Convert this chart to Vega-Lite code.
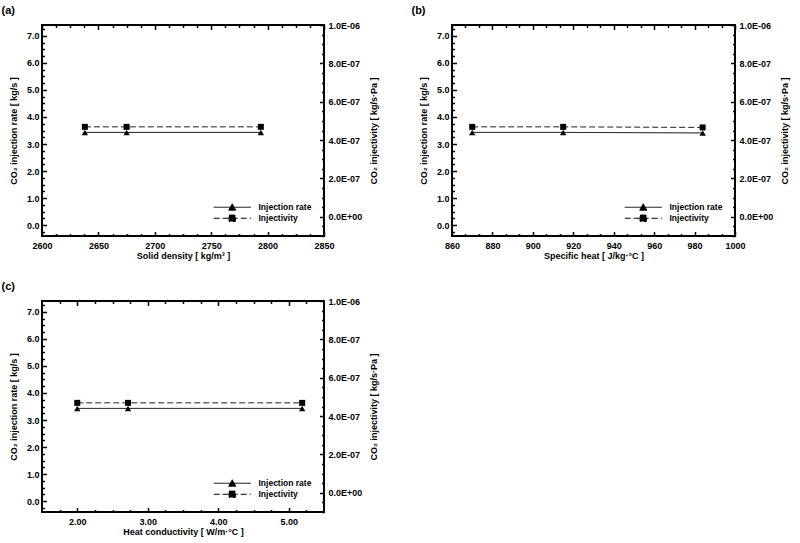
{
  "$schema": "https://vega.github.io/schema/vega-lite/v6.json",
  "padding": {"top": 4, "left": 0, "right": 5, "bottom": 5},
  "background": "white",
  "data": {"values": [
    {"panel": "a", "x": 2638, "rate": 3.43, "inj": 4.69e-7},
    {"panel": "a", "x": 2675, "rate": 3.43, "inj": 4.69e-7},
    {"panel": "a", "x": 2794, "rate": 3.43, "inj": 4.69e-7},
    {"panel": "b", "x": 870, "rate": 3.43, "inj": 4.69e-7},
    {"panel": "b", "x": 915, "rate": 3.43, "inj": 4.69e-7},
    {"panel": "b", "x": 984, "rate": 3.41, "inj": 4.66e-7},
    {"panel": "c", "x": 2.0, "rate": 3.43, "inj": 4.69e-7},
    {"panel": "c", "x": 2.72, "rate": 3.43, "inj": 4.69e-7},
    {"panel": "c", "x": 5.19, "rate": 3.43, "inj": 4.69e-7}
  ]},
  "columns": 2,
  "spacing": {"column": 30, "row": 19},
  "resolve": {"scale": {"strokeDash": "independent"}},
  "concat": [
    {
      "width": 282, "height": 211,
      "title": {"text": "(a)", "anchor": "start", "frame": "bounds", "dx": -8},
      "transform": [{"filter": "datum.panel == 'a'"}],
      "resolve": {"scale": {"y": "independent"}, "axis": {"x": "independent"}},
      "layer": [
        {"mark": {"type": "line", "color": "black", "strokeWidth": 1},
         "encoding": {
           "x": {"field": "x", "type": "quantitative", "scale": {"domain": [2600, 2850], "nice": false, "zero": false},
                 "axis": {"orient": "bottom", "title": "Solid density [ kg/m³ ]", "values": [2600, 2650, 2700, 2750, 2800, 2850], "format": "d", "ticks": false, "labelPadding": 5, "titlePadding": 1}},
           "y": {"field": "rate", "type": "quantitative", "scale": {"domain": [-0.4, 7.4], "nice": false, "zero": false},
                 "axis": {"orient": "left", "title": "CO₂ injection rate [ kg/s ]", "values": [0, 1, 2, 3, 4, 5, 6, 7], "format": ".1f", "ticks": false, "labelPadding": 3, "titlePadding": 8}},
           "strokeDash": {"datum": "Injection rate", "scale": {"domain": ["Injection rate", "Injectivity"], "range": [[1, 0], [6, 3]]},
                          "legend": {"title": null, "orient": "bottom-right", "offset": 12,
                                     "symbolType": {"expr": "datum.value === 'Injection rate' ? 'M-5.3,0H5.3M0,-1L1,0.85H-1Z' : 'M-5.3,0H5.3M-0.9,-0.9H0.9V0.9H-0.9Z'"}}}
         }},
        {"mark": {"type": "point", "filled": true, "color": "black", "size": 40, "opacity": 1, "shape": "triangle-up"},
         "encoding": {
           "x": {"field": "x", "type": "quantitative", "axis": null},
           "y": {"field": "rate", "type": "quantitative", "scale": {"domain": [-0.4, 7.4], "nice": false, "zero": false}, "axis": null}
         }},
        {"mark": {"type": "line", "color": "#222", "strokeWidth": 1},
         "encoding": {
           "x": {"field": "x", "type": "quantitative", "axis": null},
           "y": {"field": "inj", "type": "quantitative", "scale": {"domain": [-1e-7, 1e-6], "nice": false, "zero": false},
                 "axis": {"orient": "right", "title": "CO₂ injectivity [ kg/s·Pa ]", "titleAngle": 270, "titleBaseline": "top", "titlePadding": 8, "ticks": false, "labelPadding": 4,
                          "values": [0, 2e-7, 4e-7, 6e-7, 8e-7, 1e-6],
                          "labelExpr": "abs(datum.value) < 1e-12 ? '0.0E+00' : replace(upper(format(datum.value, '.1e')), 'E-', 'E-0')"}},
           "strokeDash": {"datum": "Injectivity"}
         }},
        {"mark": {"type": "point", "filled": true, "color": "black", "size": 36, "opacity": 1, "shape": "square"},
         "encoding": {
           "x": {"field": "x", "type": "quantitative", "axis": null},
           "y": {"field": "inj", "type": "quantitative", "scale": {"domain": [-1e-7, 1e-6], "nice": false, "zero": false}, "axis": null}
         }},
        {"mark": {"type": "line", "opacity": 0},
         "encoding": {
           "x": {"field": "x", "type": "quantitative", "axis": {"orient": "bottom", "title": null, "labels": false, "tickSize": 4.5, "offset": -4.5, "values": [2600, 2650, 2700, 2750, 2800, 2850]}},
           "y": {"field": "rate", "type": "quantitative", "scale": {"domain": [-0.4, 7.4], "nice": false, "zero": false},
                 "axis": {"orient": "left", "title": null, "labels": false, "tickSize": 4.5, "offset": -4.5, "values": [0, 1, 2, 3, 4, 5, 6, 7]}}
         }},
        {"mark": {"type": "line", "opacity": 0},
         "encoding": {
           "x": {"field": "x", "type": "quantitative", "axis": {"orient": "bottom", "title": null, "labels": false, "tickSize": 2.5, "offset": -2.5,
                 "values": [2612.5, 2625, 2637.5, 2662.5, 2675, 2687.5, 2712.5, 2725, 2737.5, 2762.5, 2775, 2787.5, 2812.5, 2825, 2837.5]}},
           "y": {"field": "rate", "type": "quantitative", "scale": {"domain": [-0.4, 7.4], "nice": false, "zero": false},
                 "axis": {"orient": "left", "title": null, "labels": false, "tickSize": 2.5, "offset": -2.5,
                          "values": [-0.25, 0.25, 0.5, 0.75, 1.25, 1.5, 1.75, 2.25, 2.5, 2.75, 3.25, 3.5, 3.75, 4.25, 4.5, 4.75, 5.25, 5.5, 5.75, 6.25, 6.5, 6.75, 7.25]}}
         }},
        {"mark": {"type": "line", "opacity": 0},
         "encoding": {
           "x": {"field": "x", "type": "quantitative", "axis": {"orient": "top", "title": null, "labels": false, "tickSize": 4.5, "offset": -4.5, "values": [2600, 2650, 2700, 2750, 2800, 2850]}},
           "y": {"field": "inj", "type": "quantitative", "scale": {"domain": [-1e-7, 1e-6], "nice": false, "zero": false},
                 "axis": {"orient": "right", "title": null, "labels": false, "tickSize": 4.5, "offset": -4.5, "values": [0, 2e-7, 4e-7, 6e-7, 8e-7, 1e-6]}}
         }},
        {"mark": {"type": "line", "opacity": 0},
         "encoding": {
           "x": {"field": "x", "type": "quantitative", "axis": {"orient": "top", "title": null, "labels": false, "tickSize": 2.5, "offset": -2.5,
                 "values": [2612.5, 2625, 2637.5, 2662.5, 2675, 2687.5, 2712.5, 2725, 2737.5, 2762.5, 2775, 2787.5, 2812.5, 2825, 2837.5]}},
           "y": {"field": "inj", "type": "quantitative", "scale": {"domain": [-1e-7, 1e-6], "nice": false, "zero": false},
                 "axis": {"orient": "right", "title": null, "labels": false, "tickSize": 2.5, "offset": -2.5,
                          "values": [-1e-7, -5e-8, 5e-8, 1e-7, 1.5e-7, 2.5e-7, 3e-7, 3.5e-7, 4.5e-7, 5e-7, 5.5e-7, 6.5e-7, 7e-7, 7.5e-7, 8.5e-7, 9e-7, 9.5e-7]}}
         }}
      ]
    },
    {
      "width": 283, "height": 211,
      "title": {"text": "(b)", "anchor": "start", "frame": "bounds", "dx": -8},
      "transform": [{"filter": "datum.panel == 'b'"}],
      "resolve": {"scale": {"y": "independent"}, "axis": {"x": "independent"}},
      "layer": [
        {"mark": {"type": "line", "color": "black", "strokeWidth": 1},
         "encoding": {
           "x": {"field": "x", "type": "quantitative", "scale": {"domain": [860, 1000], "nice": false, "zero": false},
                 "axis": {"orient": "bottom", "title": "Specific heat [ J/kg·°C ]", "values": [860, 880, 900, 920, 940, 960, 980, 1000], "format": "d", "ticks": false, "labelPadding": 5, "titlePadding": 1}},
           "y": {"field": "rate", "type": "quantitative", "scale": {"domain": [-0.4, 7.4], "nice": false, "zero": false},
                 "axis": {"orient": "left", "title": "CO₂ injection rate [ kg/s ]", "values": [0, 1, 2, 3, 4, 5, 6, 7], "format": ".1f", "ticks": false, "labelPadding": 3, "titlePadding": 8}},
           "strokeDash": {"datum": "Injection rate", "scale": {"domain": ["Injection rate", "Injectivity"], "range": [[1, 0], [6, 3]]},
                          "legend": {"title": null, "orient": "bottom-right", "offset": 12,
                                     "symbolType": {"expr": "datum.value === 'Injection rate' ? 'M-5.3,0H5.3M0,-1L1,0.85H-1Z' : 'M-5.3,0H5.3M-0.9,-0.9H0.9V0.9H-0.9Z'"}}}
         }},
        {"mark": {"type": "point", "filled": true, "color": "black", "size": 40, "opacity": 1, "shape": "triangle-up"},
         "encoding": {
           "x": {"field": "x", "type": "quantitative", "axis": null},
           "y": {"field": "rate", "type": "quantitative", "scale": {"domain": [-0.4, 7.4], "nice": false, "zero": false}, "axis": null}
         }},
        {"mark": {"type": "line", "color": "#222", "strokeWidth": 1},
         "encoding": {
           "x": {"field": "x", "type": "quantitative", "axis": null},
           "y": {"field": "inj", "type": "quantitative", "scale": {"domain": [-1e-7, 1e-6], "nice": false, "zero": false},
                 "axis": {"orient": "right", "title": "CO₂ injectivity [ kg/s·Pa ]", "titleAngle": 270, "titleBaseline": "top", "titlePadding": 8, "ticks": false, "labelPadding": 4,
                          "values": [0, 2e-7, 4e-7, 6e-7, 8e-7, 1e-6],
                          "labelExpr": "abs(datum.value) < 1e-12 ? '0.0E+00' : replace(upper(format(datum.value, '.1e')), 'E-', 'E-0')"}},
           "strokeDash": {"datum": "Injectivity"}
         }},
        {"mark": {"type": "point", "filled": true, "color": "black", "size": 36, "opacity": 1, "shape": "square"},
         "encoding": {
           "x": {"field": "x", "type": "quantitative", "axis": null},
           "y": {"field": "inj", "type": "quantitative", "scale": {"domain": [-1e-7, 1e-6], "nice": false, "zero": false}, "axis": null}
         }},
        {"mark": {"type": "line", "opacity": 0},
         "encoding": {
           "x": {"field": "x", "type": "quantitative", "axis": {"orient": "bottom", "title": null, "labels": false, "tickSize": 4.5, "offset": -4.5, "values": [860, 880, 900, 920, 940, 960, 980, 1000]}},
           "y": {"field": "rate", "type": "quantitative", "scale": {"domain": [-0.4, 7.4], "nice": false, "zero": false},
                 "axis": {"orient": "left", "title": null, "labels": false, "tickSize": 4.5, "offset": -4.5, "values": [0, 1, 2, 3, 4, 5, 6, 7]}}
         }},
        {"mark": {"type": "line", "opacity": 0},
         "encoding": {
           "x": {"field": "x", "type": "quantitative", "axis": {"orient": "bottom", "title": null, "labels": false, "tickSize": 2.5, "offset": -2.5,
                 "values": [866.667, 873.333, 886.667, 893.333, 906.667, 913.333, 926.667, 933.333, 946.667, 953.333, 966.667, 973.333, 986.667, 993.333]}},
           "y": {"field": "rate", "type": "quantitative", "scale": {"domain": [-0.4, 7.4], "nice": false, "zero": false},
                 "axis": {"orient": "left", "title": null, "labels": false, "tickSize": 2.5, "offset": -2.5,
                          "values": [-0.25, 0.25, 0.5, 0.75, 1.25, 1.5, 1.75, 2.25, 2.5, 2.75, 3.25, 3.5, 3.75, 4.25, 4.5, 4.75, 5.25, 5.5, 5.75, 6.25, 6.5, 6.75, 7.25]}}
         }},
        {"mark": {"type": "line", "opacity": 0},
         "encoding": {
           "x": {"field": "x", "type": "quantitative", "axis": {"orient": "top", "title": null, "labels": false, "tickSize": 4.5, "offset": -4.5, "values": [860, 880, 900, 920, 940, 960, 980, 1000]}},
           "y": {"field": "inj", "type": "quantitative", "scale": {"domain": [-1e-7, 1e-6], "nice": false, "zero": false},
                 "axis": {"orient": "right", "title": null, "labels": false, "tickSize": 4.5, "offset": -4.5, "values": [0, 2e-7, 4e-7, 6e-7, 8e-7, 1e-6]}}
         }},
        {"mark": {"type": "line", "opacity": 0},
         "encoding": {
           "x": {"field": "x", "type": "quantitative", "axis": {"orient": "top", "title": null, "labels": false, "tickSize": 2.5, "offset": -2.5,
                 "values": [866.667, 873.333, 886.667, 893.333, 906.667, 913.333, 926.667, 933.333, 946.667, 953.333, 966.667, 973.333, 986.667, 993.333]}},
           "y": {"field": "inj", "type": "quantitative", "scale": {"domain": [-1e-7, 1e-6], "nice": false, "zero": false},
                 "axis": {"orient": "right", "title": null, "labels": false, "tickSize": 2.5, "offset": -2.5,
                          "values": [-1e-7, -5e-8, 5e-8, 1e-7, 1.5e-7, 2.5e-7, 3e-7, 3.5e-7, 4.5e-7, 5e-7, 5.5e-7, 6.5e-7, 7e-7, 7.5e-7, 8.5e-7, 9e-7, 9.5e-7]}}
         }}
      ]
    },
    {
      "width": 282, "height": 211,
      "title": {"text": "(c)", "anchor": "start", "frame": "bounds", "dx": -8},
      "transform": [{"filter": "datum.panel == 'c'"}],
      "resolve": {"scale": {"y": "independent"}, "axis": {"x": "independent"}},
      "layer": [
        {"mark": {"type": "line", "color": "black", "strokeWidth": 1},
         "encoding": {
           "x": {"field": "x", "type": "quantitative", "scale": {"domain": [1.5, 5.5], "nice": false, "zero": false},
                 "axis": {"orient": "bottom", "title": "Heat conductivity [ W/m·°C ]", "values": [2, 3, 4, 5], "format": ".2f", "ticks": false, "labelPadding": 5, "titlePadding": 1}},
           "y": {"field": "rate", "type": "quantitative", "scale": {"domain": [-0.4, 7.4], "nice": false, "zero": false},
                 "axis": {"orient": "left", "title": "CO₂ injection rate [ kg/s ]", "values": [0, 1, 2, 3, 4, 5, 6, 7], "format": ".1f", "ticks": false, "labelPadding": 3, "titlePadding": 8}},
           "strokeDash": {"datum": "Injection rate", "scale": {"domain": ["Injection rate", "Injectivity"], "range": [[1, 0], [6, 3]]},
                          "legend": {"title": null, "orient": "bottom-right", "offset": 12,
                                     "symbolType": {"expr": "datum.value === 'Injection rate' ? 'M-5.3,0H5.3M0,-1L1,0.85H-1Z' : 'M-5.3,0H5.3M-0.9,-0.9H0.9V0.9H-0.9Z'"}}}
         }},
        {"mark": {"type": "point", "filled": true, "color": "black", "size": 40, "opacity": 1, "shape": "triangle-up"},
         "encoding": {
           "x": {"field": "x", "type": "quantitative", "axis": null},
           "y": {"field": "rate", "type": "quantitative", "scale": {"domain": [-0.4, 7.4], "nice": false, "zero": false}, "axis": null}
         }},
        {"mark": {"type": "line", "color": "#222", "strokeWidth": 1},
         "encoding": {
           "x": {"field": "x", "type": "quantitative", "axis": null},
           "y": {"field": "inj", "type": "quantitative", "scale": {"domain": [-1e-7, 1e-6], "nice": false, "zero": false},
                 "axis": {"orient": "right", "title": "CO₂ injectivity [ kg/s·Pa ]", "titleAngle": 270, "titleBaseline": "top", "titlePadding": 8, "ticks": false, "labelPadding": 4,
                          "values": [0, 2e-7, 4e-7, 6e-7, 8e-7, 1e-6],
                          "labelExpr": "abs(datum.value) < 1e-12 ? '0.0E+00' : replace(upper(format(datum.value, '.1e')), 'E-', 'E-0')"}},
           "strokeDash": {"datum": "Injectivity"}
         }},
        {"mark": {"type": "point", "filled": true, "color": "black", "size": 36, "opacity": 1, "shape": "square"},
         "encoding": {
           "x": {"field": "x", "type": "quantitative", "axis": null},
           "y": {"field": "inj", "type": "quantitative", "scale": {"domain": [-1e-7, 1e-6], "nice": false, "zero": false}, "axis": null}
         }},
        {"mark": {"type": "line", "opacity": 0},
         "encoding": {
           "x": {"field": "x", "type": "quantitative", "axis": {"orient": "bottom", "title": null, "labels": false, "tickSize": 4.5, "offset": -4.5, "values": [2, 3, 4, 5]}},
           "y": {"field": "rate", "type": "quantitative", "scale": {"domain": [-0.4, 7.4], "nice": false, "zero": false},
                 "axis": {"orient": "left", "title": null, "labels": false, "tickSize": 4.5, "offset": -4.5, "values": [0, 1, 2, 3, 4, 5, 6, 7]}}
         }},
        {"mark": {"type": "line", "opacity": 0},
         "encoding": {
           "x": {"field": "x", "type": "quantitative", "axis": {"orient": "bottom", "title": null, "labels": false, "tickSize": 2.5, "offset": -2.5,
                 "values": [1.75, 2.25, 2.5, 2.75, 3.25, 3.5, 3.75, 4.25, 4.5, 4.75, 5.25]}},
           "y": {"field": "rate", "type": "quantitative", "scale": {"domain": [-0.4, 7.4], "nice": false, "zero": false},
                 "axis": {"orient": "left", "title": null, "labels": false, "tickSize": 2.5, "offset": -2.5,
                          "values": [-0.25, 0.25, 0.5, 0.75, 1.25, 1.5, 1.75, 2.25, 2.5, 2.75, 3.25, 3.5, 3.75, 4.25, 4.5, 4.75, 5.25, 5.5, 5.75, 6.25, 6.5, 6.75, 7.25]}}
         }},
        {"mark": {"type": "line", "opacity": 0},
         "encoding": {
           "x": {"field": "x", "type": "quantitative", "axis": {"orient": "top", "title": null, "labels": false, "tickSize": 4.5, "offset": -4.5, "values": [2, 3, 4, 5]}},
           "y": {"field": "inj", "type": "quantitative", "scale": {"domain": [-1e-7, 1e-6], "nice": false, "zero": false},
                 "axis": {"orient": "right", "title": null, "labels": false, "tickSize": 4.5, "offset": -4.5, "values": [0, 2e-7, 4e-7, 6e-7, 8e-7, 1e-6]}}
         }},
        {"mark": {"type": "line", "opacity": 0},
         "encoding": {
           "x": {"field": "x", "type": "quantitative", "axis": {"orient": "top", "title": null, "labels": false, "tickSize": 2.5, "offset": -2.5,
                 "values": [1.75, 2.25, 2.5, 2.75, 3.25, 3.5, 3.75, 4.25, 4.5, 4.75, 5.25]}},
           "y": {"field": "inj", "type": "quantitative", "scale": {"domain": [-1e-7, 1e-6], "nice": false, "zero": false},
                 "axis": {"orient": "right", "title": null, "labels": false, "tickSize": 2.5, "offset": -2.5,
                          "values": [-1e-7, -5e-8, 5e-8, 1e-7, 1.5e-7, 2.5e-7, 3e-7, 3.5e-7, 4.5e-7, 5e-7, 5.5e-7, 6.5e-7, 7e-7, 7.5e-7, 8.5e-7, 9e-7, 9.5e-7]}}
         }}
      ]
    }
  ],
  "config": {
    "view": {"stroke": "black", "strokeWidth": 2},
    "font": "Liberation Sans",
    "axis": {"domain": false, "grid": false, "labelFont": "Liberation Sans", "labelFontWeight": "bold", "labelFontSize": 9, "labelColor": "black",
             "labelFlush": false, "labelOverlap": false, "labelBound": false,
             "titleFont": "Liberation Sans", "titleFontWeight": "bold", "titleFontSize": 9, "titleColor": "black", "titlePadding": 4,
             "tickColor": "black", "tickWidth": 1.5},
    "legend": {"labelFont": "Liberation Sans", "labelFontWeight": "bold", "labelFontSize": 8.5, "labelColor": "black",
               "symbolSize": 49, "labelOffset": 22, "padding": 0, "rowPadding": 0,
               "symbolFillColor": "black", "symbolStrokeColor": "black", "symbolStrokeWidth": 1},
    "title": {"font": "Liberation Sans", "fontSize": 11, "fontWeight": "bold", "color": "black", "offset": 5}
  }
}
